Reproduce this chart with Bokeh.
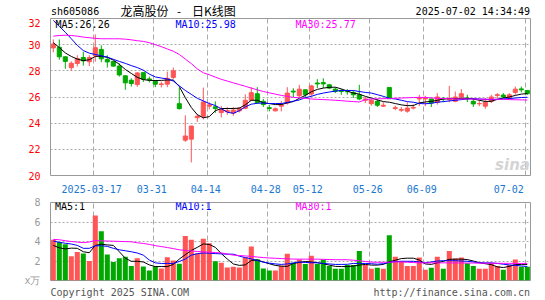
from bokeh.plotting import figure
from bokeh.models import Range1d, FixedTicker, Label, ColumnDataSource, AllLabels
from bokeh.core.properties import value
from bokeh.layouts import column
from bokeh.embed import file_html
from bokeh.resources import INLINE

# ---------------- data ----------------
opens = [29.75, 29.80, 29.07, 28.24, 28.56, 29.02, 28.69, 29.15, 29.64, 28.86,
         28.72, 28.36, 27.62, 27.28, 26.95, 27.86, 27.38, 27.20, 26.95, 26.98,
         27.50, 25.49, 22.70, 22.78, 24.42, 24.52, 25.30, 25.25, 24.81, 24.88,
         24.77, 24.94, 25.14, 25.75, 26.25, 25.67, 25.18, 24.94, 25.30, 25.54,
         26.45, 26.10, 26.55, 26.22, 27.07, 27.10, 26.93, 26.60, 26.50, 26.45,
         26.35, 26.17, 25.75, 25.49, 25.67, 25.30, 26.73, 25.12, 24.99, 24.92,
         25.15, 25.85, 25.85, 25.85, 25.60, 25.90, 25.80, 25.67, 26.00, 25.92,
         25.67, 25.48, 25.30, 25.67, 26.12, 26.15, 25.92, 26.35, 26.62, 26.50]
highs = [30.40, 30.40, 29.10, 28.72, 29.19, 29.45, 29.19, 30.78, 29.95, 29.19,
         28.75, 28.57, 27.66, 27.43, 27.90, 27.86, 27.56, 27.30, 27.18, 27.94,
         28.25, 26.70, 24.60, 23.80, 24.70, 26.72, 25.60, 25.67, 25.32, 25.24,
         25.24, 25.24, 26.20, 26.75, 26.75, 25.85, 25.40, 25.20, 25.70, 26.75,
         26.67, 26.93, 26.55, 26.93, 27.36, 27.43, 27.00, 26.75, 26.60, 26.60,
         26.50, 26.93, 26.00, 25.85, 25.85, 25.60, 26.73, 25.34, 25.24, 25.60,
         25.45, 26.17, 26.10, 25.85, 26.30, 26.00, 26.85, 26.42, 26.60, 26.17,
         25.92, 25.75, 25.92, 26.17, 26.30, 26.30, 26.30, 26.80, 26.80, 26.50]
lows = [29.42, 28.85, 28.16, 28.00, 28.33, 28.40, 28.37, 28.70, 28.66, 28.25,
        28.31, 27.56, 26.55, 26.80, 26.78, 27.15, 27.11, 26.75, 26.73, 26.75,
        27.35, 25.05, 22.57, 21.00, 24.10, 24.29, 25.05, 24.79, 24.44, 24.64,
        24.56, 24.82, 25.06, 25.70, 25.49, 25.24, 24.90, 24.90, 24.90, 25.42,
        26.00, 26.00, 25.92, 26.05, 26.68, 26.68, 26.60, 26.30, 26.17, 26.17,
        25.92, 25.75, 25.54, 25.34, 25.24, 25.24, 25.87, 24.99, 24.86, 24.80,
        25.05, 25.30, 25.30, 25.24, 25.42, 25.60, 25.60, 25.60, 25.85, 25.60,
        25.24, 25.30, 25.10, 25.54, 25.92, 25.92, 25.80, 26.17, 26.35, 26.17]
closes = [30.05, 29.07, 28.72, 28.58, 28.94, 28.76, 29.02, 29.77, 28.92, 28.68,
          28.36, 27.69, 27.08, 27.03, 27.84, 27.36, 27.30, 26.98, 27.00, 27.43,
          28.00, 25.11, 23.02, 23.78, 24.52, 25.62, 25.40, 25.12, 25.06, 24.96,
          25.00, 25.14, 25.75, 26.33, 25.57, 25.42, 25.12, 25.10, 25.40, 26.30,
          26.38, 26.60, 26.17, 26.85, 27.00, 27.00, 26.68, 26.43, 26.42, 26.40,
          26.17, 25.85, 25.85, 25.75, 25.37, 25.37, 25.87, 25.18, 25.05, 25.15,
          25.20, 25.92, 25.95, 25.54, 26.00, 25.85, 25.87, 26.00, 26.25, 25.85,
          25.47, 25.50, 25.60, 26.00, 26.17, 26.00, 26.17, 26.60, 26.55, 26.25]
volumes = [4.19, 3.94, 3.71, 2.48, 2.92, 2.76, 2.00, 6.67, 5.05, 2.67,
           1.90, 2.29, 2.44, 1.49, 2.29, 1.43, 1.02, 1.46, 1.24, 2.38,
           2.06, 1.71, 4.57, 4.19, 2.76, 4.29, 3.81, 1.97, 1.81, 1.33,
           1.40, 1.33, 2.38, 3.49, 2.19, 1.24, 1.02, 1.02, 1.52, 2.75,
           1.81, 2.16, 1.68, 2.54, 1.68, 2.16, 1.49, 1.21, 1.21, 1.59,
           1.59, 3.02, 1.59, 1.21, 1.30, 1.21, 4.63, 2.44, 1.97, 1.49,
           1.49, 2.35, 1.11, 1.30, 2.44, 1.21, 3.02, 2.25, 2.35, 1.78,
           1.49, 1.21, 1.21, 1.78, 1.49, 1.11, 1.59, 2.16, 1.40, 1.40]

ma5 = [30.15, 29.78, 29.37, 29.10, 28.90, 28.78, 28.85, 29.10, 29.12, 29.03,
       28.82, 28.50, 28.11, 27.80, 27.50, 27.33, 27.27, 27.26, 27.27, 27.30,
       27.30, 26.80, 25.95, 25.20, 24.65, 24.41, 24.50, 24.95, 25.12, 25.12,
       25.12, 25.15, 25.40, 25.75, 25.75, 25.55, 25.50, 25.42, 25.42, 25.55,
       25.65, 25.90, 26.12, 26.40, 26.58, 26.68, 26.74, 26.75, 26.62, 26.45,
       26.30, 26.22, 26.05, 25.92, 25.78, 25.65, 25.60, 25.50, 25.40, 25.34,
       25.34, 25.55, 25.62, 25.67, 25.74, 25.85, 25.87, 25.87, 25.90, 25.90,
       25.85, 25.75, 25.66, 25.67, 25.82, 25.92, 26.00, 26.12, 26.22, 26.26]
ma10 = [31.85, 31.40, 30.95, 30.45, 29.95, 29.55, 29.35, 29.25, 29.15, 29.05,
        28.88, 28.72, 28.57, 28.40, 28.25, 28.05, 27.75, 27.53, 27.45, 27.38,
        27.22, 26.85, 26.50, 26.20, 25.90, 25.70, 25.50, 25.35, 25.10, 24.84,
        24.75, 24.95, 25.25, 25.45, 25.52, 25.54, 25.50, 25.50, 25.50, 25.58,
        25.68, 25.77, 25.95, 26.05, 26.20, 26.30, 26.38, 26.45, 26.50, 26.50,
        26.50, 26.42, 26.35, 26.30, 26.18, 26.05, 25.90, 25.85, 25.75, 25.65,
        25.60, 25.50, 25.48, 25.52, 25.60, 25.65, 25.70, 25.75, 25.80, 25.85,
        25.87, 25.85, 25.82, 25.80, 25.83, 25.85, 25.88, 25.92, 25.96, 25.98]
ma30 = [30.65, 30.70, 30.72, 30.70, 30.65, 30.58, 30.53, 30.48, 30.45, 30.45,
        30.45, 30.45, 30.42, 30.37, 30.30, 30.25, 30.15, 30.00, 29.85, 29.67,
        29.50, 29.25, 28.90, 28.55, 28.15, 27.85, 27.70, 27.52, 27.35, 27.22,
        27.08, 26.95, 26.82, 26.68, 26.55, 26.42, 26.32, 26.22, 26.12, 26.05,
        25.97, 25.94, 25.90, 25.85, 25.82, 25.80, 25.78, 25.75, 25.72, 25.68,
        25.65, 25.62, 25.80, 25.85, 25.86, 25.87, 25.88, 25.90, 25.92, 25.94,
        25.96, 25.97, 25.97, 25.93, 25.90, 25.88, 25.87, 25.86, 25.85, 25.85,
        25.84, 25.84, 25.83, 25.83, 25.82, 25.82, 25.80, 25.79, 25.78, 25.77]

vma5 = [3.60, 3.35, 3.24, 3.32, 3.30, 2.95, 2.85, 3.60, 3.72, 3.65,
        3.60, 2.95, 2.29, 1.97, 1.97, 1.90, 1.60, 1.43, 1.43, 1.43,
        1.65, 2.20, 2.65, 3.08, 3.40, 3.75, 3.70, 3.40, 2.76, 2.20,
        1.70, 1.55, 1.60, 2.05, 2.10, 1.90, 1.72, 1.55, 1.47, 1.45,
        1.75, 1.85, 1.95, 1.90, 1.83, 1.72, 1.58, 1.45, 1.43, 1.43,
        1.48, 1.58, 1.65, 1.58, 1.58, 1.65, 1.92, 2.08, 2.25, 2.29,
        2.29, 2.10, 1.70, 1.65, 1.82, 1.97, 2.17, 2.19, 2.19, 2.15,
        2.00, 1.83, 1.72, 1.63, 1.40, 1.33, 1.45, 1.62, 1.65, 1.65]
vma10 = [4.05, 3.92, 3.82, 3.74, 3.60, 3.30, 3.30, 3.56, 3.56, 3.50,
         3.30, 3.15, 3.05, 2.95, 2.82, 2.60, 2.10, 1.81, 1.75, 1.75,
         1.75, 1.95, 2.20, 2.60, 2.75, 2.82, 2.80, 2.76, 2.73, 2.70,
         2.70, 2.50, 2.35, 2.22, 2.05, 1.88, 1.78, 1.70, 1.65, 1.70,
         1.80, 1.90, 1.85, 1.82, 1.81, 1.75, 1.70, 1.65, 1.65, 1.66,
         1.75, 1.75, 1.75, 1.72, 1.67, 1.72, 1.85, 1.95, 1.97, 1.97,
         1.97, 1.90, 1.82, 1.90, 2.00, 2.03, 2.03, 2.03, 2.00, 1.97,
         1.90, 1.82, 1.81, 1.81, 1.75, 1.67, 1.60, 1.55, 1.49, 1.44]
vma30 = [4.22, 4.18, 4.08, 4.00, 3.94, 3.88, 3.95, 4.10, 4.07, 4.05,
         4.03, 4.01, 3.99, 3.97, 3.87, 3.80, 3.70, 3.58, 3.48, 3.38,
         3.27, 3.15, 3.08, 3.03, 2.98, 2.93, 2.90, 2.87, 2.83, 2.72,
         2.60, 2.56, 2.52, 2.47, 2.41, 2.35, 2.31, 2.28, 2.25, 2.22,
         2.20, 2.19, 2.19, 2.19, 2.19, 2.17, 2.15, 2.13, 2.13, 2.13,
         2.08, 2.03, 1.95, 1.88, 1.87, 1.87, 1.88, 1.90, 1.90, 1.87,
         1.84, 1.81, 1.81, 1.81, 1.81, 1.81, 1.81, 1.80, 1.80, 1.79,
         1.79, 1.78, 1.78, 1.77, 1.77, 1.76, 1.76, 1.75, 1.75, 1.75]

tick_labels = ["2025-03-17", "03-31", "04-14", "04-28", "05-12", "05-26", "06-09", "07-02"]
tick_index = [7, 17, 26, 36, 43, 53, 62, 79]
price_ticks = [20, 22, 24, 26, 28, 30, 32]
vol_ticks = [0, 2, 4, 6, 8]

stock_code = "sh605086"
stock_name = "龙高股份"
chart_kind = "日K线图"
stamp = "2025-07-02 14:34:49"
ma_text = ["MA5:26.26", "MA10:25.98", "MA30:25.77"]
vma_text = ["MA5:1", "MA10:1", "MA30:1"]
footer_text = ["Copyright 2025 SINA.COM", "http://finance.sina.com.cn"]

# ---------------- styles ----------------
MONO = "DejaVu Sans Mono"
CJK = "Noto Sans CJK SC"
RED = "#ff5555"
GREEN = "#00a800"
GRID = "#aaaaaa"
FRAME = "#999999"
MA_COLORS = ["#000000", "#0000ff", "#ff00ff"]

X_START, X_END = -0.467, 79.533
grid_pos = [round(t - 0.35, 3) for t in tick_index]
label_pos = [round(t - 0.6, 3) for t in tick_index[:-1]] + [round(tick_index[-1] - 3.1, 3)]

n = len(closes)
xs = list(range(n))
colors = [RED if c >= o else GREEN for o, c in zip(opens, closes)]
src = ColumnDataSource(dict(
    x=xs, h=highs, l=lows,
    top=[max(o, c) for o, c in zip(opens, closes)],
    bot=[min(o, c) for o, c in zip(opens, closes)],
    color=colors, vol=volumes,
    ma5=ma5, ma10=ma10, ma30=ma30, vma5=vma5, vma10=vma10, vma30=vma30))


def xpx(px):
    return X_START + (px - 50) / 6.0


# ---------------- header strip (frame = page pixels 50..530) ----------------
h = figure(width=545, height=18, x_range=Range1d(50, 530), y_range=Range1d(18, 0),
           output_backend="svg", toolbar_location=None, title=None,
           x_axis_location=None, y_axis_location=None,
           min_border_left=50, min_border_right=15, min_border_top=0, min_border_bottom=0)
h.grid.visible = False
h.outline_line_color = None
h.background_fill_color = "white"
h.border_fill_color = "white"
h.text(x=[50.5], y=[11.0], text=[stock_code], text_font=value(MONO), text_font_size="10px",
       text_color="black", text_baseline="middle", text_align="left")
h.text(x=[120], y=[10.3], text=[stock_name], text_font=value(CJK), text_font_size="12px",
       text_color="black", text_baseline="middle", text_align="left")
h.text(x=[178.5], y=[10.3], text=["-"], text_font=value(MONO), text_font_size="11px",
       text_color="black", text_baseline="middle", text_align="center")
h.text(x=[191.5], y=[10.3], text=[chart_kind], text_font=value(CJK), text_font_size="12px",
       text_color="black", text_baseline="middle", text_align="left")
h.text(x=[529.5], y=[11.0], text=[stamp], text_font=value(MONO), text_font_size="10px",
       text_color="black", text_baseline="middle", text_align="right")


def base_fig(height, y0, y1, top, bottom):
    f = figure(width=545, height=height, x_range=Range1d(X_START, X_END),
               y_range=Range1d(y0, y1), output_backend="svg", toolbar_location=None,
               title=None, min_border_left=50, min_border_right=15, min_border_top=top,
               min_border_bottom=bottom)
    f.outline_line_color = FRAME
    f.outline_line_width = 1
    f.background_fill_color = "white"
    f.border_fill_color = "white"
    for ax in f.axis:
        ax.axis_line_color = None
        ax.major_tick_line_color = None
        ax.minor_tick_line_color = None
        ax.major_label_text_font = MONO
        ax.major_label_text_font_size = "10px"
        ax.major_label_standoff = 4
        ax.major_label_policy = AllLabels()
    f.xgrid.ticker = FixedTicker(ticks=grid_pos)
    f.xgrid.grid_line_color = GRID
    f.xgrid.grid_line_dash = "5 3"
    f.ygrid.grid_line_color = GRID
    f.ygrid.grid_line_dash = "2 2"
    return f


# ---------------- price panel ----------------
p = base_fig(177, 20, 32, 0, 18)


def ypx(py):
    return 32 - (py - 18) / 13.25


p.yaxis.ticker = FixedTicker(ticks=price_ticks)
p.yaxis.major_label_text_color = "#ff0000"
p.ygrid.ticker = FixedTicker(ticks=price_ticks[1:-1])
p.xaxis.ticker = FixedTicker(ticks=label_pos)
p.xaxis.major_label_overrides = {pos: lab for pos, lab in zip(label_pos, tick_labels)}
p.xaxis.major_label_text_color = "#1a78d0"
p.xaxis.major_label_standoff = 3

p.segment(x0="x", y0="l", x1="x", y1="h", color="color", line_width=1, source=src)
p.vbar(x="x", top="top", bottom="bot", width=0.68, fill_color="color",
       line_color="color", line_width=1, source=src)
for key, col in zip(["ma5", "ma10", "ma30"], MA_COLORS):
    p.line(x="x", y=key, color=col, line_width=1, source=src)

for txt, col, lx in zip(ma_text, MA_COLORS, [55, 175, 295]):
    p.add_layout(Label(x=xpx(lx), y=ypx(23.7), text=txt, text_font=MONO,
                       text_font_size="10px", text_color=col, text_baseline="middle"))
p.add_layout(Label(x=xpx(512), y=ypx(166), text="sina", text_font="DejaVu Sans",
                   text_font_size="15px", text_font_style="bold italic",
                   text_color="#d4d4d4", text_baseline="middle", text_align="center"))

# ---------------- volume panel ----------------
q = base_fig(105, 0, 8, 7, 14)


def yvol(py_page):
    return 8 - (py_page - 202) / 10.5


# footer texts are carried by the bottom axis of the volume panel
foot_pos = [round(xpx(50 + len(footer_text[0]) * 3.01), 3),
            round(xpx(529.5 - len(footer_text[1]) * 3.01), 3)]
q.xaxis.ticker = FixedTicker(ticks=foot_pos)
q.xaxis.major_label_overrides = {pos: t for pos, t in zip(foot_pos, footer_text)}
q.xaxis.major_label_text_color = "#555555"
q.xaxis.major_label_standoff = 0
q.yaxis.ticker = FixedTicker(ticks=vol_ticks)
q.yaxis.major_label_overrides = {0: "x万"}
q.yaxis.major_label_text_color = "#999999"
q.ygrid.ticker = FixedTicker(ticks=vol_ticks[1:-1])

q.vbar(x="x", top="vol", bottom=0, width=0.84, fill_color="color", line_color=None, source=src)
for key, col in zip(["vma5", "vma10", "vma30"], MA_COLORS):
    q.line(x="x", y=key, color=col, line_width=1, source=src)

for txt, col, lx in zip(vma_text, MA_COLORS, [54.5, 175, 295]):
    q.add_layout(Label(x=xpx(lx), y=yvol(206.7), text=txt, text_font=MONO,
                       text_font_size="10px", text_color=col, text_baseline="middle"))

layout = column(h, p, q, spacing=0)
open("out.html", "w").write(file_html(layout, INLINE))
